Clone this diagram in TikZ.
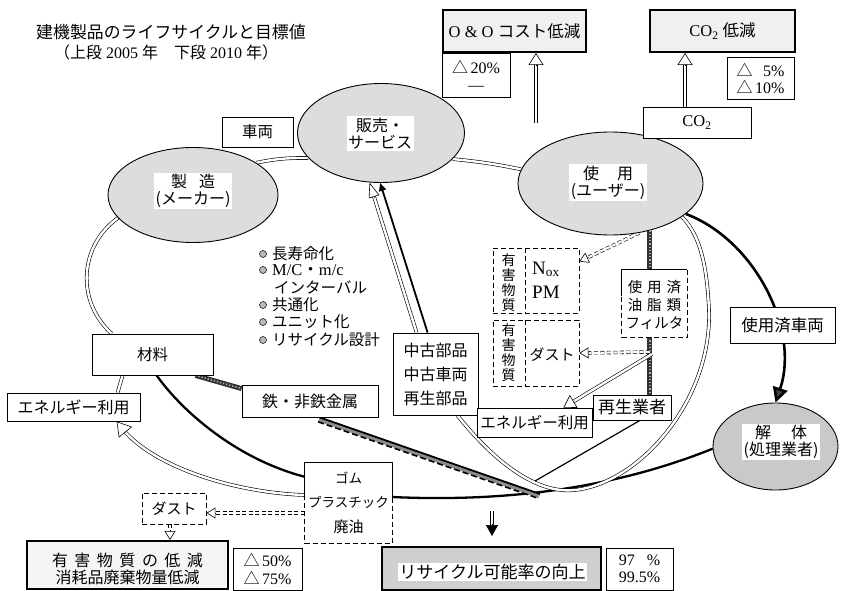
\documentclass[tikz,border=0pt]{standalone}
\usepackage{fontspec}
\setmainfont{Liberation Serif}
\newfontfamily\jp{Noto Sans CJK JP}
\usetikzlibrary{shapes.geometric,arrows.meta,calc}
\pgfdeclarelayer{bg}
\pgfsetlayers{bg,main}
\begin{document}
\begin{tikzpicture}[x=1pt,y=1pt,
  jpn/.style={font=\jp\fontsize{15.5}{18}\selectfont},
  box/.style={draw, line width=0.8pt, fill=white, inner sep=0pt, align=center, jpn},
  tbox/.style={draw, line width=2pt, inner sep=0pt, align=center},
  ell/.style={ellipse, draw, line width=0.9pt, fill=gray!27, inner sep=0pt},
  etext/.style={fill=white, inner sep=1.5pt, align=center, font=\jp\fontsize{16}{17}\selectfont},
  dashpat/.style={line width=0.9pt, dash pattern=on 5pt off 3pt},
  dbox/.style={draw, dashpat, fill=white, inner sep=0pt},
  dline/.style={double=white, double distance=2.4pt, line width=0.6pt},
  ddline/.style={double=white, double distance=2.2pt, line width=0.6pt, dash pattern=on 4pt off 2.5pt},
  thickc/.style={line width=2.3pt},
  hatch/.style={line width=5pt, draw=black!80, postaction={draw=gray!60, line width=1.6pt, dash pattern=on 1.2pt off 2pt}},
  ohead/.style={-{Triangle[length=12pt,width=15pt,fill=white]}, line width=0.6pt},
  dohead/.style={-{Triangle[length=9pt,width=11pt,fill=white]}, line width=0.6pt},
  bul/.style={circle, draw, line width=0.5pt, fill=gray!55, inner sep=0pt, minimum size=7pt},
  ltext/.style={anchor=west, inner sep=0pt, font=\jp\fontsize{15.5}{17}\selectfont},
  pct/.style={box, font=\fontsize{16}{17}\selectfont},
]
\useasboundingbox (0,0) rectangle (843,-591);

% ---------- titles
\node[anchor=west, inner sep=0pt, font=\jp\fontsize{16.9}{18}\selectfont] (title) at (36,-32) {建機製品のライフサイクルと目標値};
\node[anchor=west, inner sep=0pt, font=\fontsize{16}{18}\selectfont] (subtitle) at (54,-52) {{\jp （上段}\ 2005\ {\jp 年　下段}\ 2010\ {\jp 年）}};

% ---------- ellipses
\node[ell, minimum width=167pt, minimum height=99pt] (hanbai) at (381,-133) {};
\node[etext] (hanbaiT) at (380,-133.5) {販売・\\サービス};
\node[ell, minimum width=170pt, minimum height=95pt] (seizo) at (193,-195) {};
\node[etext] (seizoT) at (193,-191) {製\hspace{12pt}造\\(メーカー)};
\node[ell, minimum width=185pt, minimum height=103pt] (shiyo) at (610.5,-183.5) {};
\node[etext] (shiyoT) at (608,-182.5) {使\hspace{18pt}用\\(ユーザー)};
\node[ell, fill=gray!42, minimum width=125pt, minimum height=87pt] (kaitai) at (775.5,-446.5) {};
\node[etext] (kaitaiT) at (781,-442) {解\hspace{20pt}体\\(処理業者)};

% ---------- top boxes
\node[tbox, fill=gray!12, minimum width=143pt, minimum height=42pt, font=\fontsize{16.5}{18}\selectfont] (oo) at (514.5,-31) {O \& O {\jp コスト低減}};
\node[pct, minimum width=68pt, minimum height=44pt] (pct1) at (476,-75) {{\jp △}\,20\%\\—};
\node[tbox, fill=gray!12, minimum width=145pt, minimum height=42pt, font=\fontsize{16.5}{18}\selectfont] (co2r) at (722.5,-31) {CO\textsubscript{2}\ {\jp 低減}};
\node[pct, minimum width=67pt, minimum height=42pt] (pct2) at (760.5,-78) {{\jp △}\,\hphantom{1}5\%\\{\jp △}\,10\%};
\node[box, font=\fontsize{16.5}{18}\selectfont, minimum width=108pt, minimum height=31pt] (co2) at (697,-122.5) {CO\textsubscript{2}};

% ---------- plain boxes
\node[box, minimum width=71pt, minimum height=30pt] (sharyo) at (257.5,-132) {車両};
\node[box, minimum width=121pt, minimum height=41pt] (zairyo) at (152.5,-354.5) {材料};
\node[box, font=\jp\fontsize{16}{18}\selectfont, minimum width=133pt, minimum height=28pt] (enerL) at (73.5,-407) {エネルギー利用};
\node[box, font=\jp\fontsize{16}{18}\selectfont, minimum width=136pt, minimum height=32pt] (tetsu) at (310,-401) {鉄・非鉄金属};
\node[box, font=\jp\fontsize{16}{24}\selectfont, minimum width=85pt, minimum height=82pt] (chuko) at (435.5,-374) {中古部品\\中古車両\\再生部品};
\node[box, minimum width=115pt, minimum height=29pt] (enerR) at (534.5,-422.5) {エネルギー利用};
\node[box, font=\jp\fontsize{17}{18}\selectfont, minimum width=78pt, minimum height=25pt] (saisei) at (632,-407.5) {再生業者};
\node[box, font=\jp\fontsize{16.5}{18}\selectfont, minimum width=105pt, minimum height=36pt] (haisha) at (782.5,-325) {使用済車両};

% ---------- gomu box (solid top, dashed bottom)
\node[fill=white, inner sep=0pt, minimum width=87pt, minimum height=80pt] (gomu) at (348.5,-503) {};
\node[align=center, inner sep=0pt, font=\jp\fontsize{13.5}{24.5}\selectfont] (gomuT) at (348.5,-502.5) {ゴム\\プラスチック\\{\fontsize{15}{24.5}\selectfont 廃油}};
\draw[line width=0.9pt] ($(gomu.west)+(0,8)$) |- (gomu.north east) -- ($(gomu.east)+(0,6)$);
\draw[dashpat] ($(gomu.west)+(0,8)$) -- (gomu.south west) -- (gomu.south east) -- ($(gomu.east)+(0,6)$);

% ---------- oil / filter box
\node[fill=white, inner sep=0pt, minimum width=65pt, minimum height=67pt] (oilbox) at (654.5,-303.5) {};
\node[align=center, inner sep=0pt, font=\jp\fontsize{14.5}{18}\selectfont] (oilT) at (654.5,-305) {使\hspace{5pt}用\hspace{5pt}済\\油\hspace{5pt}脂\hspace{5pt}類\\フィルタ};
\draw[line width=0.9pt] ($(oilbox.west)+(0,8)$) |- (oilbox.north east);
\draw[dashpat] (oilbox.north east) -- (oilbox.south east) -- (oilbox.south west) -- ($(oilbox.west)+(0,8)$);

% ---------- harmful substance boxes
\node[dbox, minimum width=86pt, minimum height=65pt] (yugai1) at (536,-280.5) {};
\draw[dashpat] ($(yugai1.north west)+(33,0)$) -- ($(yugai1.south west)+(33,0)$);
\node[align=center, inner sep=0pt, font=\jp\fontsize{14}{15}\selectfont] (y1a) at (508.5,-282.5) {有\\害\\物\\質};
\node[anchor=west, align=left, inner sep=0pt, font=\fontsize{19}{24}\selectfont] (y1b) at (532,-280) {N\textsubscript{ox}\\PM};
\node[dbox, minimum width=86pt, minimum height=66pt] (yugai2) at (536,-353) {};
\draw[dashpat] ($(yugai2.north west)+(33,0)$) -- ($(yugai2.south west)+(33,0)$);
\node[align=center, inner sep=0pt, font=\jp\fontsize{14}{15}\selectfont] (y2a) at (508.5,-352.5) {有\\害\\物\\質};
\node[inner sep=0pt, font=\jp\fontsize{15}{18}\selectfont] (y2b) at (552,-355) {ダスト};

% ---------- bottom-left
\node[dbox, font=\jp\fontsize{15}{18}\selectfont, minimum width=64pt, minimum height=31pt] (dust) at (174,-508.5) {ダスト};
\node[tbox, fill=gray!8, minimum width=201pt, minimum height=48pt] (target) at (127.5,-565) {};
\node[align=center, inner sep=0pt, font=\jp\fontsize{16}{17}\selectfont] (targetT) at (127.5,-568.5) {有\hspace{6.5pt}害\hspace{6.5pt}物\hspace{6.5pt}質\hspace{6.5pt}の\hspace{6.5pt}低\hspace{6.5pt}減\\消耗品廃棄物量低減};
\node[pct, font=\fontsize{16}{18}\selectfont, minimum width=69pt, minimum height=42pt] (pct3) at (267.5,-569) {{\jp △}\,50\%\\{\jp △}\,75\%};

% ---------- bottom-right
\node[tbox, fill=gray!38, minimum width=219pt, minimum height=43pt] (recycle) at (491.5,-568.5) {};
\node[fill=white, inner sep=1pt, font=\jp\fontsize{17}{18}\selectfont] (recT) at (492.5,-572) {リサイクル可能率の向上};
\node[pct, minimum width=67pt, minimum height=42pt] (pct4) at (639.5,-569) {97\hphantom{.5}\%\\99.5\%};

% ---------- bullet list
\node[bul] (bu1) at (263,-254) {};
\node[bul] (bu2) at (263,-270) {};
\node[bul] (bu3) at (263,-305) {};
\node[bul] (bu4) at (263,-322) {};
\node[bul] (bu5) at (263,-340) {};
\node[ltext] (bt1) at (272,-254) {長寿命化};
\node[ltext, font=\fontsize{16.5}{17}\selectfont] (bt2) at (272,-270) {M/C{\jp ・}m/c};
\node[ltext] (bt2b) at (274,-287) {インターバル};
\node[ltext] (bt3) at (272,-305) {共通化};
\node[ltext] (bt4) at (272,-322) {ユニット化};
\node[ltext] (bt5) at (272,-340) {リサイクル設計};

% ---------- connectors
\begin{pgfonlayer}{bg}
\fill[white] (0,0) rectangle (843,-591);

% ring of double lines
\draw[dline] (seizo.27) to[bend left=6] (hanbai.199);
\draw[dline] (hanbai.-20) to[bend left=3] (shiyo.171);
\draw[dline] (seizo.197) .. controls (80,-245) and (75,-300) .. ($(zairyo.north west)+(20,0)$);
\draw[dline] ($(zairyo.south west)+(31,0)$) -- ($(enerL.north west)+(111,0)$);

% thick black flow
\draw[thickc] ($(zairyo.south west)+(65,0)$) .. controls (185,-415) and (240,-460) .. ($(gomu.north west)+(0,-14)$);
\draw[thickc] ($(gomu.east)+(0,6)$) .. controls (500,-502) and (610,-490) .. (kaitai.182);

% hatched metal flow
\draw[hatch] ($(zairyo.south east)+(-18,0)$) -- ($(tetsu.north west)+(0,-4)$);
\coordinate (tS) at ($(tetsu.south west)+(78,0)$);
\coordinate (hEnd) at (540,-494);
\draw[line width=4pt, black!45] ($(tS)+(-0.75,-2.1)$) -- ($(hEnd)+(-0.75,-2.1)$);
\draw[line width=1.8pt] (tS) -- (hEnd);
\draw[line width=1.6pt, dash pattern=on 6pt off 3pt] ($(tS)+(-1.5,-4.4)$) -- ($(hEnd)+(-1.5,-4.4)$);

% U-shaped double line
\draw[dline] ($(chuko.south east)+(-21,0)$) .. controls (485,-450) and (530,-495) .. (575,-490) .. controls (640,-483) and (712,-400) .. (709,-310) .. controls (707,-265) and (700,-235) .. (shiyo.-25);
\coordinate (uMeet) at (535,-481);
\draw[line width=1.2pt] ($(saisei.south)+(8,0)$) -- (uMeet);

% used vehicles to dismantling
\draw[line width=2.6pt, -{Triangle[length=15pt,width=15pt,fill=black!75]}] (shiyo.-22) .. controls (755,-240) and (800,-330) .. (kaitai.north);

% vertical hatched line
\coordinate (vtop) at (shiyo.-50);
\draw[hatch] (vtop) -- (vtop |- oilbox.north);
\draw[hatch] (vtop |- oilbox.south) -- (vtop |- saisei.north);

% dashed arrows to harmful substance boxes
\coordinate (y1tip) at ($(yugai1.north east)+(0,-14)$);
\draw[ddline, shorten >=9pt] (shiyo.-60) -- (y1tip);
\draw[dohead] ($(y1tip)!10pt!(shiyo.-60)$) -- (y1tip);
\coordinate (vl2) at ($(vtop |- yugai2.east)+(0,1)$);
\draw[ddline, shorten >=9pt] (vl2) -- (yugai2.east);
\draw[dohead] ($(yugai2.east)!10pt!(vl2)$) -- (yugai2.east);

% to energy (right)
\coordinate (vl3) at ($(vtop |- yugai2.east)+(2,-1)$);
\coordinate (eRtip) at ($(enerR.north east)+(-29,0)$);
\draw[dline, shorten >=11pt] (vl3) -- (eRtip);
\draw[ohead] ($(eRtip)!13pt!(vl3)$) -- (eRtip);

% gomu to energy (left)
\coordinate (eLtip) at ($(enerL.south west)+(110,0)$);
\coordinate (eLbase) at ($(eLtip)+(9,-11)$);
\draw[dline] ($(gomu.west)+(0,8)$) .. controls (240,-493) and (160,-470) .. (eLbase);
\draw[-{Triangle[length=14pt,width=17pt,fill=white]}, line width=0.6pt] (eLbase) -- (eLtip);

% gomu to dust, dust to target
\coordinate (dTip) at ($(dust.east)+(0,-4.5)$);
\coordinate (gL) at ($(gomu.west)+(0,-10)$);
\draw[ddline, shorten >=9pt] (gL) -- (dTip);
\draw[dohead] ($(dTip)!10pt!(gL)$) -- (dTip);
\coordinate (tTip) at ($(target.north)+(42.5,0)$);
\coordinate (dB) at (dust.south -| tTip);
\draw[ddline, shorten >=9pt] (dB) -- (tTip);
\draw[dohead] ($(tTip)!10pt!(dB)$) -- (tTip);

% down arrow to recycle
\coordinate (dnT) at ($(recycle.north)+(0.5,10)$);
\coordinate (dnS) at ($(dnT)+(0,25)$);
\draw[double=white, double distance=2.4pt, line width=0.7pt, shorten >=9pt] (dnS) -- (dnT);
\draw[-{Triangle[length=11pt,width=12pt]}, line width=0.6pt] ($(dnT)!12pt!(dnS)$) -- (dnT);

% used parts to sales
\coordinate (hbTip) at (hanbai.-103);
\coordinate (chA) at ($(chuko.north west)+(24,0)$);
\draw[dline, shorten >=14pt] (chA) -- (hbTip);
\draw[-{Triangle[length=15pt,width=11pt,fill=white]}, line width=0.6pt] ($(hbTip)!16pt!(chA)$) -- (hbTip);
\coordinate (chB) at ($(chuko.north west)+(35,0)$);
\draw[line width=1.8pt, -{Triangle[length=8pt,width=7pt]}] (chB) -- (hanbai.-91);

% arrows to top targets
\coordinate (ooS) at (536,-123);
\coordinate (ooT) at ($(oo.south)+(21.5,0)$);
\draw[dline, shorten >=11pt] (ooS) -- (ooT);
\draw[ohead] ($(ooT)!12pt!(ooS)$) -- (ooT);
\coordinate (coS) at ($(co2.north)+(-12,0)$);
\coordinate (coT) at ($(co2r.south)+(-37.5,0)$);
\draw[dline, shorten >=11pt] (coS) -- (coT);
\draw[ohead] ($(coT)!12pt!(coS)$) -- (coT);
\end{pgfonlayer}
\end{tikzpicture}
\end{document}
